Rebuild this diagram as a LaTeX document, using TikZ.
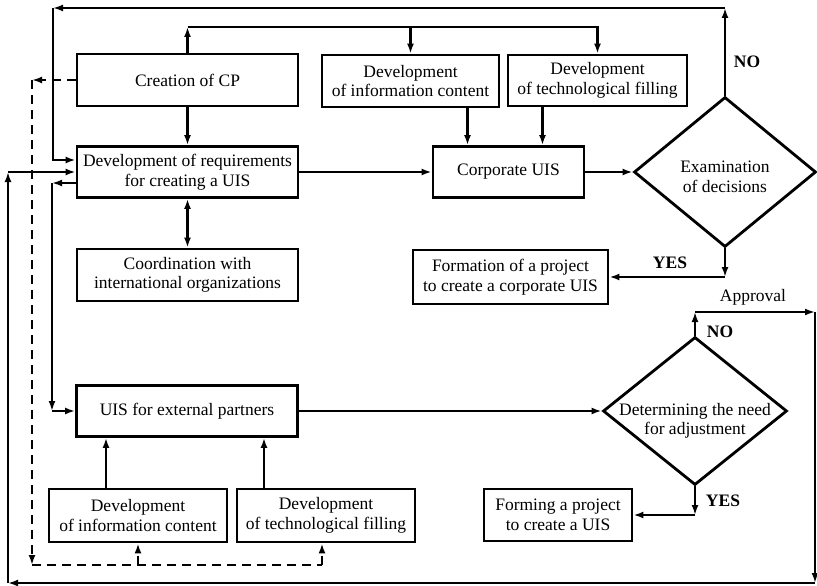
\documentclass[tikz,border=0pt]{standalone}
\usepackage{fontspec}
\setmainfont{Liberation Serif}
\usetikzlibrary{arrows.meta,shapes.geometric}

\begin{document}
\begin{tikzpicture}[x=1pt,y=-1pt,line width=2.8pt,
            >={Latex[length=10pt,width=7pt]},
            font=\fontsize{17.5}{19.5}\selectfont,
            box/.style={draw,align=center,inner sep=2pt},
            decision/.style={draw,diamond,inner sep=0pt,minimum width=182pt,minimum height=150pt},
            dashline/.style={dash pattern=on 9pt off 6pt},
            answer/.style={font=\fontsize{17.5}{19.5}\selectfont\bfseries}]
            \useasboundingbox (0,0) rectangle (817,586);

            \node[box,minimum width=221pt,minimum height=52pt] (cp) at (187.5,80) {Creation of CP};
            \node[box,minimum width=177pt,minimum height=52pt] (infoA) at (410.5,81) {Development\\of information content};
            \node[box,minimum width=179pt,minimum height=51pt] (techA) at (597.5,80.5) {Development\\of technological filling};
            \node[box,minimum width=221pt,minimum height=51pt] (req) at (187.5,172) {Development of requirements\\for creating a UIS};
            \node[box,minimum width=151pt,minimum height=51pt] (corp) at (508.5,172) {Corporate UIS};
            \node[decision] (exam) at (725,172) {};
            \node[align=center] (examTxt) at ([yshift=-5pt]exam.center) {Examination\\of decisions};
            \node[box,minimum width=221pt,minimum height=52pt] (coord) at (187.5,275) {Coordination with\\international organizations};
            \node[box,minimum width=195pt,minimum height=54pt] (formA) at (510.5,277) {Formation of a project\\to create a corporate UIS};
            \node[box,minimum width=221pt,minimum height=51pt] (uisext) at (187,411) {UIS for external partners};
            \node[decision,minimum width=184pt,minimum height=148pt] (adj) at (695,411) {};
            \node[align=center] (adjTxt) at ([yshift=-10pt]adj.center) {Determining the need\\for adjustment};
            \node[box,minimum width=178pt,minimum height=53pt] (infoB) at (138,515.5) {Development\\of information content};
            \node[box,minimum width=178pt,minimum height=53pt] (techB) at (326,515.5) {Development\\of technological filling};
            \node[box,minimum width=148pt,minimum height=52pt] (formB) at (558,515) {Forming a project\\to create a UIS};

            \coordinate (cptop) at (cp.north |- 0,27);
            \coordinate (noA) at (exam.north |- 0,8);
            \coordinate (noB) at (53,8);
            \coordinate (yesA) at (exam.south |- formA.east);
            \coordinate (apA) at (adj.north |- 0,312);
            \coordinate (apB) at (815,312);
            \coordinate (apC) at (815,583);
            \coordinate (apD) at (8,583);
            \coordinate (apE) at (8,172);
            \coordinate (rqA) at (52,183);
            \coordinate (rqB) at (52,411);
            \coordinate (yesB) at (adj.south |- formB.east);
            \coordinate (dlA) at (32,80);
            \coordinate (dlB) at (32,565);
            \coordinate (dlC) at (322,565);

            % upper branch
            \draw[->] (cp.north) -- (cptop);
            \draw[->] (cptop) -| (infoA.north);
            \draw[->] (cptop) -| (techA.north);
            \draw[->] (cp.south) -- (req.north);
            \draw[<->] (req.south) -- (coord.north);
            \draw[->] ([xshift=-41pt]corp.north |- infoA.south) -- ([xshift=-41pt]corp.north);
            \draw[->] ([xshift=34pt]corp.north |- techA.south) -- ([xshift=34pt]corp.north);
            \draw[->] (req.east) -- (corp.west);
            \draw[->] (corp.east) -- (exam.west);
            \draw[->] (exam.north) -- (noA);
            \draw[->] (noA) -- (noB);
            \draw[->] (noB) |- ([yshift=12pt]req.west);
            \node[answer] (noLblA) at (747,62) {NO};
            \draw[->] (exam.south) -- (yesA);
            \draw[->] (yesA) -- (formA.east);
            \node[answer] (yesLblA) at (670,263) {YES};

            % lower branch
            \draw[->] ([yshift=-11pt]req.west) -- (rqA);
            \draw[->] (rqA) -- (rqB);
            \draw[->] (rqB) -- (uisext.west);
            \draw[->] (uisext.east) -- (adj.west);
            \draw[->] ([xshift=-32pt]infoB.north) -- ([xshift=-32pt]infoB.north |- uisext.south);
            \draw[->] ([xshift=-62pt]techB.north) -- ([xshift=-62pt]techB.north |- uisext.south);
            \draw[->] (adj.south) -- (yesB);
            \draw[->] (yesB) -- (formB.east);
            \node[answer] (yesLblB) at (723,501) {YES};

            % approval loop
            \draw[->] (adj.north) -- (apA);
            \draw[->] (apA) -- (apB);
            \draw[->] (apB) -- (apC);
            \draw[->] (apC) -- (apD);
            \draw[->] (apD) -- (apE);
            \draw[->] (apE) -- (req.west);
            \node (apLbl) at (753,297) {Approval};
            \node[answer] (noLblB) at (720,332) {NO};

            % dashed feed
            \draw[dashline,->] (cp.west) -- (dlA);
            \draw[dashline,->] (dlA) -- (dlB);
            \draw[dashline] (dlB) -- (dlC);
            \draw[dashline,->] (infoB.south |- dlB) -- (infoB.south);
            \draw[dashline,->] (dlC) -- ([xshift=-4pt]techB.south);
        \end{tikzpicture}
\end{document}
